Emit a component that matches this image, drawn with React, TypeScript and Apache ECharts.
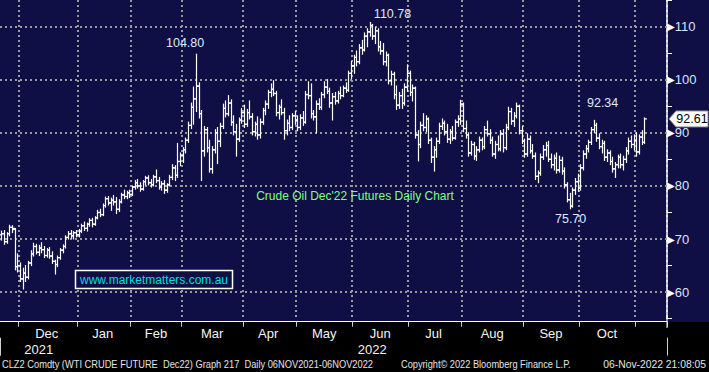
import React, { useEffect, useRef } from 'react';
import * as echarts from 'echarts';

// [open, high, low, close] per trading day
type Bar = [number, number, number, number];

const nov21: Bar[] = [
  [70.8, 71.5, 69.8, 71.0], [71.0, 71.6, 69.0, 69.5], [69.5, 71.2, 69.2, 71.0], [71.0, 72.6, 70.6, 72.2],
  [72.2, 72.5, 71.2, 72.0], [71.8, 72.0, 64.2, 64.8], [64.8, 67.2, 63.8, 65.0],
];
const dec21: Bar[] = [
  [65.0, 65.5, 62.0, 62.5], [62.5, 64.5, 60.6, 63.6], [63.6, 65.0, 62.0, 62.8], [62.8, 65.8, 62.5, 65.5],
  [65.5, 67.8, 65.0, 67.2], [67.2, 69.2, 66.8, 68.6], [68.6, 69.0, 67.2, 67.5], [67.5, 68.8, 66.9, 68.3],
  [68.3, 69.3, 67.4, 68.0], [68.0, 68.6, 66.5, 66.9], [66.9, 68.2, 66.6, 67.9], [67.9, 68.4, 66.4, 66.8],
  [66.8, 67.6, 65.4, 65.8], [65.8, 66.0, 63.4, 65.2], [65.2, 66.8, 64.8, 66.5], [66.5, 68.2, 66.2, 67.9],
  [67.9, 68.9, 67.4, 68.6], [68.6, 70.6, 68.3, 70.3], [70.3, 71.4, 70.0, 71.0], [71.0, 71.6, 70.2, 70.6],
  [70.6, 71.4, 70.0, 71.2], [71.2, 71.6, 70.4, 70.8],
];
const jan22: Bar[] = [
  [70.8, 71.8, 70.4, 71.5], [71.5, 72.8, 71.2, 72.5], [72.5, 73.2, 71.6, 72.0], [72.0, 73.0, 71.5, 72.8],
  [72.8, 73.8, 72.4, 73.5], [73.5, 73.9, 72.3, 72.8], [72.8, 74.2, 72.6, 74.0], [74.0, 75.4, 73.8, 75.0],
  [75.0, 75.6, 74.2, 74.6], [74.6, 76.6, 74.4, 76.3], [76.3, 77.9, 76.0, 77.6], [77.6, 78.0, 76.4, 76.8],
  [76.8, 77.7, 75.4, 77.3], [77.3, 78.2, 76.4, 77.0], [77.0, 77.8, 74.8, 75.6], [75.6, 77.4, 75.2, 77.0],
  [77.0, 78.6, 76.8, 78.3], [78.3, 79.2, 77.6, 78.0], [78.0, 79.0, 77.6, 78.7], [78.7, 79.2, 77.8, 78.4],
];
const feb22: Bar[] = [
  [78.4, 80.0, 78.2, 79.8], [79.8, 81.0, 79.4, 80.6], [80.6, 81.2, 79.6, 80.0], [80.0, 80.6, 79.0, 79.4],
  [79.4, 81.0, 79.2, 80.8], [80.8, 81.8, 80.2, 81.5], [81.5, 81.9, 80.2, 80.6], [80.6, 81.2, 79.8, 80.2],
  [80.2, 82.0, 80.0, 81.7], [81.7, 83.0, 80.6, 81.0], [81.0, 81.6, 79.4, 79.8], [79.8, 80.8, 79.2, 80.4],
  [80.4, 81.0, 78.6, 79.2], [79.2, 80.4, 78.8, 80.2], [80.2, 82.0, 80.0, 81.6], [81.6, 84.0, 81.2, 83.4],
  [83.4, 83.8, 81.0, 82.0], [82.0, 88.0, 81.6, 84.6], [84.6, 86.2, 83.8, 85.8],
];
const mar22: Bar[] = [
  [85.8, 87.2, 84.4, 86.8], [86.8, 89.0, 86.2, 88.6], [88.6, 92.0, 88.2, 91.4], [91.4, 95.6, 90.8, 94.8],
  [94.8, 98.6, 91.6, 96.4], [96.4, 104.8, 94.0, 98.8], [98.8, 99.4, 92.8, 93.6], [93.6, 94.2, 81.0, 86.6],
  [86.6, 91.2, 85.6, 90.6], [90.6, 91.0, 86.4, 87.2], [87.2, 88.6, 82.6, 83.2], [83.2, 87.4, 82.4, 86.8],
  [86.8, 90.6, 86.2, 90.0], [90.0, 91.0, 84.2, 88.4], [88.4, 91.8, 87.4, 91.2], [91.2, 95.4, 90.8, 94.6],
  [94.6, 96.0, 93.0, 93.6], [93.6, 97.0, 93.2, 95.6], [95.6, 96.2, 91.4, 92.0], [92.0, 93.2, 89.6, 90.2],
  [90.2, 91.6, 85.6, 88.8], [88.8, 92.8, 88.4, 92.4], [92.4, 94.6, 91.8, 93.8],
];
const apr22: Bar[] = [
  [93.8, 95.2, 91.0, 91.6], [91.6, 94.4, 91.2, 93.8], [93.8, 96.0, 92.6, 93.0], [93.0, 93.6, 89.6, 90.2],
  [90.2, 92.0, 89.4, 91.6], [91.6, 93.0, 88.8, 89.6], [89.6, 92.6, 89.0, 92.0], [92.0, 94.6, 91.6, 94.2],
  [94.2, 96.0, 93.4, 95.4], [95.4, 98.0, 94.6, 97.6], [97.6, 99.2, 96.8, 98.2], [98.2, 99.8, 97.0, 97.4],
  [97.4, 97.8, 93.2, 93.8], [93.8, 95.2, 92.6, 94.8], [94.8, 96.2, 93.4, 93.8], [93.8, 94.6, 88.8, 90.4],
  [90.4, 92.4, 89.6, 91.8], [91.8, 93.2, 90.4, 91.0], [91.0, 93.6, 90.6, 93.2], [93.2, 94.0, 91.6, 92.4],
];
const may22: Bar[] = [
  [92.4, 93.2, 90.4, 91.0], [91.0, 93.4, 90.6, 92.8], [92.8, 94.0, 91.4, 92.0], [92.0, 97.8, 91.8, 97.2],
  [97.2, 99.6, 96.4, 97.0], [97.0, 99.2, 92.8, 93.6], [93.6, 94.2, 92.4, 93.0], [93.0, 96.0, 90.0, 95.4],
  [95.4, 96.4, 94.4, 94.8], [94.8, 97.6, 94.4, 97.2], [97.2, 99.6, 96.6, 98.6], [98.6, 100.0, 97.4, 97.8],
  [97.8, 98.4, 94.8, 95.6], [95.6, 97.4, 92.4, 96.8], [96.8, 97.6, 95.4, 96.0], [96.0, 97.8, 95.6, 97.4],
  [97.4, 98.6, 96.4, 97.0], [97.0, 98.8, 96.8, 98.4], [98.4, 99.4, 97.6, 98.0], [98.0, 101.6, 97.8, 101.2],
  [101.2, 103.4, 100.2, 102.6],
];
const jun22: Bar[] = [
  [102.6, 104.6, 101.2, 104.2], [104.2, 105.4, 102.6, 103.4], [103.4, 106.6, 103.0, 106.0], [106.0, 107.4, 104.8, 105.6],
  [105.6, 108.8, 105.4, 108.2], [108.2, 109.6, 106.2, 109.0], [109.0, 110.78, 108.2, 110.2], [110.2, 110.4, 107.6, 108.2],
  [108.2, 109.8, 106.8, 109.2], [109.2, 109.6, 105.4, 106.2], [106.2, 107.2, 104.8, 105.4], [105.4, 106.8, 102.8, 103.4],
  [103.4, 105.2, 102.6, 104.6], [104.6, 104.8, 99.2, 99.8], [99.8, 101.6, 99.0, 101.0], [101.0, 101.4, 96.4, 97.2],
  [97.2, 98.8, 94.4, 95.2], [95.2, 97.6, 94.6, 97.0], [97.0, 98.2, 94.6, 95.6], [95.6, 99.2, 95.2, 98.6],
  [98.6, 102.8, 97.8, 101.2],
];
const jul22: Bar[] = [
  [101.2, 101.6, 97.0, 97.6], [97.6, 99.0, 96.0, 98.4], [98.4, 98.6, 89.0, 89.6], [89.6, 90.4, 84.7, 87.8],
  [87.8, 92.0, 87.2, 91.4], [91.4, 93.6, 90.4, 91.0], [91.0, 93.2, 90.2, 92.6], [92.6, 92.8, 88.0, 88.6],
  [88.6, 89.0, 84.4, 85.4], [85.4, 87.4, 82.8, 86.8], [86.8, 89.0, 85.4, 88.4], [88.4, 91.8, 88.0, 91.2],
  [91.2, 92.6, 90.6, 91.8], [91.8, 92.2, 89.6, 90.2], [90.2, 91.6, 88.2, 88.8], [88.8, 90.6, 88.0, 90.2],
  [90.2, 91.2, 88.6, 89.0], [89.0, 92.4, 88.8, 92.0], [92.0, 93.2, 91.2, 92.6], [92.6, 96.1, 91.6, 95.4],
];
const aug22: Bar[] = [
  [95.4, 95.6, 90.2, 90.8], [90.8, 92.2, 89.0, 89.6], [89.6, 90.0, 85.6, 86.2], [86.2, 88.4, 85.8, 87.8],
  [87.8, 88.2, 85.0, 85.6], [85.6, 87.4, 84.8, 86.8], [86.8, 89.2, 86.4, 88.6], [88.6, 89.0, 86.8, 87.4],
  [87.4, 91.2, 87.0, 90.6], [90.6, 92.2, 89.4, 89.8], [89.8, 90.6, 88.0, 88.6], [88.6, 89.2, 85.6, 86.0],
  [86.0, 88.4, 85.2, 87.8], [87.8, 89.4, 86.6, 87.0], [87.0, 90.4, 86.6, 89.8], [89.8, 90.6, 86.4, 87.2],
  [87.2, 91.6, 86.8, 91.0], [91.0, 94.8, 90.6, 94.0], [94.0, 94.6, 91.6, 92.2], [92.2, 93.8, 91.2, 93.2],
  [93.2, 95.6, 92.8, 95.0], [95.0, 95.2, 89.8, 90.4], [90.4, 91.2, 88.0, 88.4],
];
const sep22: Bar[] = [
  [88.4, 88.8, 85.4, 86.0], [86.0, 89.8, 85.6, 88.8], [88.8, 89.4, 86.2, 86.6], [86.6, 87.8, 85.2, 85.6],
  [85.6, 86.2, 81.2, 81.8], [81.8, 82.8, 80.6, 82.4], [82.4, 86.0, 82.0, 85.4], [85.4, 87.6, 85.0, 86.8],
  [86.8, 88.2, 85.6, 87.6], [87.6, 88.4, 84.6, 85.0], [85.0, 86.0, 83.4, 84.0], [84.0, 85.8, 83.0, 85.2],
  [85.2, 86.2, 82.4, 83.0], [83.0, 85.6, 82.6, 84.8], [84.8, 85.4, 82.2, 82.8], [82.8, 83.4, 79.6, 80.2],
  [80.2, 80.6, 77.0, 77.4], [77.4, 78.6, 75.7, 76.2], [76.2, 79.6, 76.0, 79.2], [79.2, 81.4, 78.4, 80.8],
  [80.8, 82.2, 79.0, 79.6],
];
const oct22: Bar[] = [
  [79.6, 84.0, 79.2, 83.4], [83.4, 86.6, 83.0, 86.0], [86.0, 87.6, 85.2, 87.0], [87.0, 88.6, 86.4, 88.2],
  [88.2, 91.0, 87.8, 90.6], [90.6, 92.34, 90.0, 91.4], [91.4, 91.8, 88.4, 89.0], [89.0, 89.8, 87.0, 87.4],
  [87.4, 88.6, 86.2, 88.0], [88.0, 88.4, 84.8, 85.4], [85.4, 86.8, 84.6, 86.2], [86.2, 86.6, 84.0, 84.6],
  [84.6, 85.4, 82.6, 83.2], [83.2, 84.4, 81.6, 84.0], [84.0, 85.8, 83.4, 85.4], [85.4, 86.0, 83.4, 84.0],
  [84.0, 85.6, 83.0, 85.0], [85.0, 87.2, 84.4, 86.6], [86.6, 89.0, 86.0, 88.4], [88.4, 89.4, 87.2, 87.8],
  [87.8, 89.6, 86.8, 88.6],
];
const nov22: Bar[] = [
  [88.6, 90.0, 85.6, 86.4], [86.4, 89.6, 86.0, 89.2], [89.2, 90.4, 87.8, 88.2], [88.2, 92.8, 88.0, 92.61],
];

const monthBars: Bar[][] = [nov21, dec21, jan22, feb22, mar22, apr22, may22, jun22, jul22, aug22, sep22, oct22, nov22];
const monthNames = ['Nov', 'Dec', 'Jan', 'Feb', 'Mar', 'Apr', 'May', 'Jun', 'Jul', 'Aug', 'Sep', 'Oct', 'Nov'];
const monthYears = [2021, 2021, 2022, 2022, 2022, 2022, 2022, 2022, 2022, 2022, 2022, 2022, 2022];
const monthLabelled = [false, true, true, true, true, true, true, true, true, true, true, true, false];
const trailingBlankDays = 8;

const yTickValues = [60, 70, 80, 90, 100, 110];
const yMin = 55;
const yMax = 115;
const yStep = 5;

const annotations: { value: number; field: 'high' | 'low' }[] = [
  { value: 104.8, field: 'high' },
  { value: 110.78, field: 'high' },
  { value: 92.34, field: 'high' },
  { value: 75.7, field: 'low' },
];
const annotationOffsets: [number, number][] = [[-11, -11], [23, -8], [9, -17], [1, 10]];

const chartTitle = "Crude Oil Dec'22 Futures Daily Chart";
const watermark = 'www.marketmatters.com.au';
const footerLeft = 'CLZ2 Comdty (WTI CRUDE FUTURE  Dec22) Graph 217  Daily 06NOV2021-06NOV2022';
const footerMid = 'Copyright\u00A9 2022 Bloomberg Finance L.P.';
const footerRight = '06-Nov-2022 21:08:05';

// ---- derived structures ----
const allBars: Bar[] = monthBars.flat();
const categories: string[] = [];
const monthStart = new Set<number>();
const monthLabelAt = new Map<number, string>();
const yearLabelAt = new Map<number, string>();
const yearBoundary = new Set<number>();
{
  let idx = 0;
  const yearRanges = new Map<number, [number, number]>();
  monthBars.forEach((m, k) => {
    if (k > 0) monthStart.add(idx);
    if (monthLabelled[k]) monthLabelAt.set(Math.floor(idx + (m.length - 1) / 2), monthNames[k]);
    const y = monthYears[k];
    if (k > 0 && monthYears[k - 1] !== y) yearBoundary.add(idx);
    const r = yearRanges.get(y);
    if (!r) yearRanges.set(y, [idx, idx + m.length - 1]);
    else r[1] = idx + m.length - 1;
    m.forEach((_, j) => categories.push(`${monthNames[k]}${y}-${j + 1}`));
    idx += m.length;
  });
  for (let j = 0; j < trailingBlankDays; j++) categories.push(`blank-${j}`);
  const last = yearRanges.get(monthYears[monthYears.length - 1])!;
  last[1] = categories.length - 1;
  yearRanges.forEach((r, y) => yearLabelAt.set(Math.round((r[0] + r[1]) / 2), String(y)));
}
const seriesData = allBars.map((b, i) => [i, b[0], b[1], b[2], b[3]]);
const lastClose = allBars[allBars.length - 1][3];

const SANS = "'Liberation Sans', Arial, sans-serif";
const NAVY = '#0f0f45';
const GRIDCOL = '#9a9a9a';

export default function App() {
  const ref = useRef<HTMLDivElement>(null);
  useEffect(() => {
    document.body.style.margin = '0';
    const chart = echarts.init(ref.current!, undefined, { renderer: 'svg' });

    const markPoints = annotations.map((a, k) => {
      const fi = a.field === 'high' ? 1 : 2;
      const i = allBars.findIndex((b) => Math.abs(b[fi] - a.value) < 1e-6);
      return {
        coord: [i, a.value],
        value: a.value,
        label: { offset: annotationOffsets[k] },
      };
    });

    const footerStyle = (text: string, align: string) => ({
      text, fill: '#e4e4e4', font: `11px ${SANS}`, align, verticalAlign: 'middle',
    });

    const baseGraphic: any[] = [
      { type: 'rect', z: -100, silent: true, shape: { x: 0, y: 0, width: 709, height: 322 }, style: { fill: NAVY } },
      { type: 'line', z: 5, silent: true, shape: { x1: 667, y1: 316, x2: 667, y2: 328 }, style: { stroke: '#fff', lineWidth: 1 } },
      {
        type: 'text', z: 10, x: 355, y: 196,
        style: { text: chartTitle, fill: '#80ff80', font: `12px ${SANS}`, align: 'center', verticalAlign: 'middle' },
      },
      {
        type: 'rect', z: 10, shape: { x: 75.5, y: 270.5, width: 157, height: 18 },
        style: { fill: NAVY, stroke: '#ffffff', lineWidth: 1.5 },
      },
      {
        type: 'text', z: 11, x: 154, y: 280,
        style: { text: watermark, fill: '#00dede', font: `12px ${SANS}`, align: 'center', verticalAlign: 'middle' },
      },
      { type: 'text', z: 10, x: 2, y: 364, scaleX: 0.845, style: footerStyle(footerLeft, 'left') },
      { type: 'text', z: 10, x: 401, y: 364, scaleX: 0.84, style: footerStyle(footerMid, 'left') },
      { type: 'text', z: 10, x: 706, y: 364, scaleX: 0.94, style: footerStyle(footerRight, 'right') },
    ];

    const option: any = {
      animation: false,
      backgroundColor: '#000000',
      grid: { left: 0, right: 42, top: -1.7, bottom: 53.3, containLabel: false },
      xAxis: [
        {
          type: 'category',
          data: categories,
          boundaryGap: true,
          offset: 3,
          axisLine: { show: true, lineStyle: { color: '#ffffff', width: 1 } },
          axisTick: { show: true, length: 5, interval: (i: number) => monthStart.has(i), lineStyle: { color: '#d0d0d0', width: 1 } },
          splitLine: { show: true, interval: (i: number) => monthStart.has(i), lineStyle: { color: GRIDCOL, width: 2, type: [2, 3] } },
          axisLabel: {
            show: true,
            interval: (i: number) => monthLabelAt.has(i),
            formatter: (_v: string, i: number) => monthLabelAt.get(i) || '',
            color: '#f4f4f4',
            fontFamily: SANS,
            fontSize: 13,
            margin: 5,
          },
        },
        {
          type: 'category',
          data: categories,
          boundaryGap: true,
          position: 'bottom',
          offset: 19,
          axisLine: { show: false },
          axisTick: { show: true, length: 18, interval: (i: number) => yearBoundary.has(i), lineStyle: { color: '#d0d0d0', width: 1 } },
          splitLine: { show: false },
          axisLabel: {
            show: true,
            interval: (i: number) => yearLabelAt.has(i),
            formatter: (_v: string, i: number) => yearLabelAt.get(i) || '',
            color: '#f4f4f4',
            fontFamily: SANS,
            fontSize: 13,
            margin: 5,
          },
        },
      ],
      yAxis: {
        type: 'value',
        position: 'right',
        min: yMin,
        max: yMax,
        interval: yStep,
        axisLine: { show: true, lineStyle: { color: '#ffffff', width: 1.5 } },
        axisTick: { show: true, length: 5, lineStyle: { color: '#ffffff', width: 1 } },
        splitLine: { show: false },
        axisLabel: {
          show: true,
          margin: 0,
          formatter: (v: number) => (yTickValues.includes(v) ? `{a|\u25B6}{b|${v}}` : ''),
          rich: {
            a: { color: '#ffffff', fontSize: 10, fontFamily: "'DejaVu Sans', sans-serif" },
            b: { color: '#d8e4ff', fontSize: 13, fontFamily: SANS },
          },
        },
      },
      series: [
        {
          type: 'custom',
          xAxisIndex: 0,
          yAxisIndex: 0,
          z: 2,
          dimensions: ['idx', 'open', 'high', 'low', 'close'],
          encode: { x: 0, y: [1, 2, 3, 4] },
          data: seriesData,
          renderItem: (_params: any, api: any) => {
            const i = api.value(0);
            const pH = api.coord([i, api.value(2)]);
            const pL = api.coord([i, api.value(3)]);
            const pO = api.coord([i, api.value(1)]);
            const pC = api.coord([i, api.value(4)]);
            const x = Math.round(pH[0]) + 0.5;
            const st = { stroke: '#ffffff', lineWidth: 1.2 };
            return {
              type: 'group',
              children: [
                { type: 'line', shape: { x1: x, y1: pH[1] - 0.5, x2: x, y2: pL[1] + 0.5 }, style: st },
                { type: 'line', shape: { x1: x - 2.5, y1: pO[1], x2: x, y2: pO[1] }, style: st },
                { type: 'line', shape: { x1: x, y1: pC[1], x2: x + 2.5, y2: pC[1] }, style: st },
              ],
            };
          },
          markLine: {
            silent: true,
            z: 1,
            symbol: ['none', 'none'],
            label: { show: false },
            lineStyle: { color: GRIDCOL, width: 2, type: [2, 3] },
            emphasis: { disabled: true },
            data: yTickValues.map((v) => ({ yAxis: v })),
          },
          markPoint: {
            silent: true,
            symbol: 'circle',
            symbolSize: 1,
            itemStyle: { color: 'rgba(0,0,0,0)' },
            label: {
              show: true,
              position: 'inside',
              color: '#dce8ff',
              fontSize: 12.5,
              fontFamily: SANS,
              formatter: (p: any) => Number(p.value).toFixed(2),
            },
            data: markPoints,
          },
        },
      ],
      graphic: baseGraphic,
    };

    chart.setOption(option);

    const yc = chart.convertToPixel({ yAxisIndex: 0 }, lastClose) as number;
    const tag: any[] = [
      {
        type: 'polygon', z: 20,
        shape: { points: [[669, yc], [676, yc - 8], [708, yc - 8], [708, yc + 8], [676, yc + 8]] },
        style: { fill: '#ffffff', stroke: '#888888', lineWidth: 1 },
      },
      {
        type: 'text', z: 21, x: 692, y: yc + 0.5,
        style: { text: lastClose.toFixed(2), fill: '#000000', font: `12.5px ${SANS}`, align: 'center', verticalAlign: 'middle' },
      },
    ];
    chart.setOption({ graphic: [...baseGraphic, ...tag] });

    return () => chart.dispose();
  }, []);

  return <div ref={ref} style={{ position: 'fixed', left: 0, top: 0, width: 709, height: 372 }} />;
}
